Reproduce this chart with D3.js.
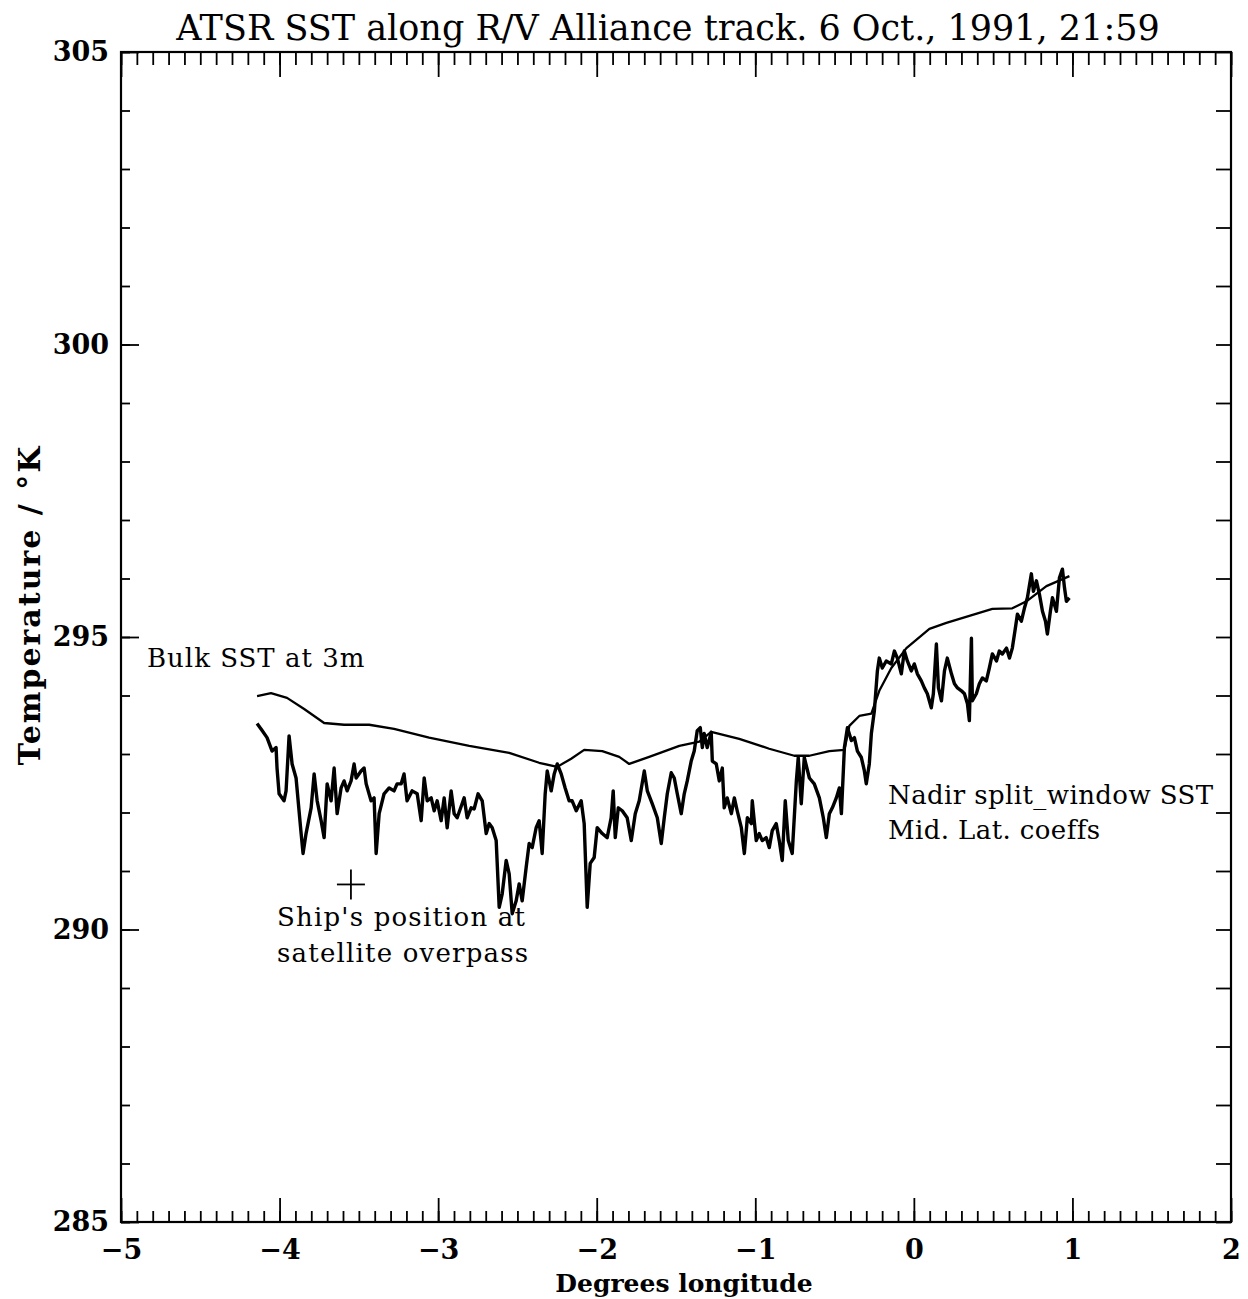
<!DOCTYPE html>
<html>
<head>
<meta charset="utf-8">
<script src="https://cdn.jsdelivr.net/npm/d3@7"></script>
<style>
  body { margin: 0; background: #fff; }
  svg { display: block; }
</style>
</head>
<body>
<svg id="svg" width="1248" height="1299"></svg>
<script>
// bulk SST at 3m (smooth curve)
var bulkLon = [-4.142, -4.054, -3.953, -3.845, -3.719, -3.593, -3.435, -3.278, -3.057, -2.804,
    -2.552, -2.363, -2.249, -2.161, -2.079, -1.965, -1.858, -1.795, -1.669, -1.479,
    -1.353, -1.278, -1.101, -0.912, -0.754, -0.659, -0.533, -0.438, -0.407, -0.344,
    -0.268, -0.218, -0.142, -0.047, 0.098, 0.205, 0.350, 0.495, 0.621, 0.710, 0.836, 0.981];
var bulkT = [293.99, 294.04, 293.96, 293.77, 293.53, 293.50, 293.50, 293.43, 293.28, 293.14,
    293.02, 292.85, 292.78, 292.92, 293.07, 293.05, 292.95, 292.83, 292.95, 293.14,
    293.21, 293.38, 293.26, 293.09, 292.97, 292.97, 293.05, 293.07, 293.48, 293.65,
    293.69, 294.08, 294.47, 294.81, 295.14, 295.24, 295.36, 295.48, 295.49, 295.61, 295.87, 296.04];

// nadir split-window SST (noisy trace)
var nadirLon = [-4.142, -4.110, -4.079, -4.047, -4.022, -4.016, -4.003, -3.972, -3.959, -3.940,
    -3.921, -3.896, -3.864, -3.852, -3.833, -3.801, -3.782, -3.763, -3.738, -3.719,
    -3.700, -3.675, -3.656, -3.637, -3.612, -3.593, -3.574, -3.549, -3.530, -3.517,
    -3.486, -3.467, -3.454, -3.423, -3.404, -3.391, -3.372, -3.341, -3.309, -3.278,
    -3.259, -3.233, -3.215, -3.196, -3.164, -3.132, -3.107, -3.088, -3.069, -3.044,
    -3.025, -3.006, -2.981, -2.962, -2.943, -2.918, -2.899, -2.880, -2.849, -2.836,
    -2.817, -2.792, -2.773, -2.748, -2.722, -2.697, -2.678, -2.659, -2.634, -2.615,
    -2.596, -2.571, -2.552, -2.533, -2.508, -2.489, -2.470, -2.445, -2.426, -2.407,
    -2.382, -2.363, -2.344, -2.325, -2.312, -2.287, -2.268, -2.249, -2.224, -2.199,
    -2.174, -2.155, -2.129, -2.098, -2.079, -2.060, -2.041, -2.016, -1.997, -1.965,
    -1.934, -1.909, -1.896, -1.883, -1.864, -1.839, -1.808, -1.782, -1.757, -1.732,
    -1.700, -1.681, -1.650, -1.618, -1.593, -1.574, -1.555, -1.530, -1.511, -1.492,
    -1.467, -1.448, -1.429, -1.404, -1.385, -1.366, -1.347, -1.334, -1.322, -1.303,
    -1.278, -1.271, -1.246, -1.227, -1.208, -1.196, -1.177, -1.151, -1.132, -1.114,
    -1.088, -1.069, -1.050, -1.025, -1.019, -0.994, -0.975, -0.956, -0.931, -0.912,
    -0.893, -0.868, -0.849, -0.830, -0.811, -0.792, -0.767, -0.741, -0.729, -0.710,
    -0.691, -0.659, -0.628, -0.596, -0.571, -0.552, -0.533, -0.514, -0.489, -0.470,
    -0.457, -0.438, -0.419, -0.394, -0.375, -0.356, -0.331, -0.312, -0.300, -0.281,
    -0.268, -0.249, -0.230, -0.218, -0.199, -0.174, -0.142, -0.123, -0.104, -0.079,
    -0.060, -0.041, -0.016, 0.003, 0.022, 0.047, 0.066, 0.085, 0.110, 0.123,
    0.142, 0.155, 0.174, 0.193, 0.211, 0.237, 0.256, 0.275, 0.300, 0.319,
    0.338, 0.350, 0.363, 0.369, 0.394, 0.413, 0.432, 0.457, 0.476, 0.495,
    0.521, 0.539, 0.558, 0.584, 0.603, 0.621, 0.640, 0.653, 0.678, 0.697,
    0.716, 0.741, 0.754, 0.773, 0.792, 0.811, 0.830, 0.842, 0.861, 0.874,
    0.899, 0.918, 0.937, 0.950, 0.962, 0.981];
var nadirT = [293.52, 293.40, 293.28, 293.05, 293.11, 292.76, 292.32, 292.20, 292.37, 293.31,
    292.83, 292.59, 291.64, 291.30, 291.64, 292.08, 292.66, 292.20, 291.86, 291.57,
    292.49, 292.20, 292.76, 291.98, 292.42, 292.54, 292.37, 292.54, 292.83, 292.59,
    292.71, 292.76, 292.49, 292.20, 292.25, 291.30, 291.98, 292.32, 292.42, 292.37,
    292.49, 292.49, 292.66, 292.20, 292.37, 292.32, 291.86, 292.59, 292.20, 292.25,
    292.03, 292.20, 291.86, 292.25, 291.74, 292.37, 291.98, 291.91, 292.15, 292.25,
    291.91, 292.08, 292.06, 292.32, 292.20, 291.64, 291.81, 291.74, 291.52, 290.38,
    290.61, 291.18, 290.95, 290.27, 290.49, 290.78, 290.49, 291.06, 291.47, 291.40,
    291.74, 291.86, 291.30, 292.32, 292.71, 292.37, 292.66, 292.83, 292.66, 292.42,
    292.20, 292.20, 292.03, 292.20, 291.81, 290.38, 291.13, 291.23, 291.74, 291.64,
    291.57, 291.91, 292.37, 291.57, 292.08, 292.03, 291.91, 291.52, 291.98, 292.20,
    292.71, 292.37, 292.15, 291.91, 291.47, 291.91, 292.32, 292.68, 292.59, 292.32,
    291.98, 292.32, 292.54, 292.88, 293.05, 293.40, 293.45, 293.11, 293.35, 293.11,
    293.37, 292.88, 292.83, 292.54, 292.76, 292.08, 292.25, 291.98, 292.25, 292.03,
    291.74, 291.30, 291.91, 291.81, 292.20, 291.52, 291.64, 291.52, 291.57, 291.40,
    291.69, 291.81, 291.52, 291.18, 292.20, 291.52, 291.30, 292.54, 292.94, 292.15,
    292.94, 292.59, 292.49, 292.25, 291.91, 291.57, 291.98, 292.08, 292.25, 292.42,
    291.98, 293.11, 293.45, 293.23, 293.28, 293.05, 292.94, 292.71, 292.49, 292.83,
    293.35, 293.74, 294.42, 294.64, 294.47, 294.59, 294.54, 294.76, 294.64, 294.37,
    294.76, 294.59, 294.42, 294.54, 294.37, 294.25, 294.13, 294.03, 293.79, 294.03,
    294.88, 294.13, 293.91, 294.42, 294.64, 294.37, 294.20, 294.13, 294.08, 294.03,
    293.86, 293.57, 294.98, 293.91, 294.03, 294.20, 294.30, 294.25, 294.47, 294.71,
    294.59, 294.76, 294.71, 294.81, 294.64, 294.81, 295.15, 295.39, 295.27, 295.49,
    295.67, 296.08, 295.78, 295.96, 295.73, 295.44, 295.27, 295.05, 295.44, 295.67,
    295.44, 296.01, 296.16, 295.84, 295.61, 295.67];

// ship position marker
var shipLon = [-3.55];
var shipT = [290.77];

var xMajor = [-5, -4, -3, -2, -1, 0, 1, 2];
var yMajor = [285, 290, 295, 300, 305];

var title = 'ATSR SST along R/V Alliance track. 6 Oct., 1991, 21:59';

var L = 121, R = 1231, T = 52, B = 1222;
var serif = '"DejaVu Serif", serif';

var x = d3.scaleLinear().domain([-5, 2]).range([L, R]);
var y = d3.scaleLinear().domain([285, 305]).range([B, T]);

var s = d3.select('#svg');

function ticks(axis, tx, ty, vals, len){
    var g = s.append('g')
        .attr('transform', 'translate(' + tx + ',' + ty + ')')
        .call(axis.tickValues(vals).tickSize(len).tickFormat(''));
    g.select('.domain').remove();
    g.selectAll('line').attr('stroke', '#000').attr('stroke-width', 1.8);
    return g;
}

var xMinor = d3.range(-50, 21).map(function(d){ return d / 10; });
var yMinor = d3.range(285, 306);

// top (ticks down) and bottom (ticks up)
ticks(d3.axisBottom(x), 0, T, xMinor, 13);
ticks(d3.axisBottom(x), 0, T, xMajor, 25);
ticks(d3.axisTop(x), 0, B, xMinor, 11);
ticks(d3.axisTop(x), 0, B, xMajor, 24);
// left (ticks right) and right (ticks left)
ticks(d3.axisRight(y), L, 0, yMinor, 9);
ticks(d3.axisRight(y), L, 0, yMajor, 18);
ticks(d3.axisLeft(y), R, 0, yMinor, 15);

// frame
s.append('rect')
    .attr('x', L).attr('y', T)
    .attr('width', R - L).attr('height', B - T)
    .attr('fill', 'none').attr('stroke', '#000').attr('stroke-width', 2.2);

// tick labels
var gx = s.append('g')
    .attr('transform', 'translate(0,' + B + ')')
    .call(d3.axisBottom(x).tickValues(xMajor).tickSize(0).tickPadding(18)
        .tickFormat(function(d){ return d < 0 ? '\u2212' + Math.abs(d) : d; }));
gx.select('.domain').remove();
gx.selectAll('text').attr('font-family', serif).attr('font-weight', 'bold')
    .attr('font-size', 27).attr('fill', '#000');

var gy = s.append('g')
    .attr('transform', 'translate(' + L + ',0)')
    .call(d3.axisLeft(y).tickValues(yMajor).tickSize(0).tickPadding(12));
gy.select('.domain').remove();
gy.selectAll('text').attr('font-family', serif).attr('font-weight', 'bold')
    .attr('font-size', 27).attr('fill', '#000');

// series
var line = d3.line()
    .x(function(d){ return x(d[0]); })
    .y(function(d){ return y(d[1]); });

s.append('path')
    .datum(d3.zip(bulkLon, bulkT))
    .attr('d', line)
    .attr('fill', 'none').attr('stroke', '#000').attr('stroke-width', 2.3)
    .attr('stroke-linejoin', 'round');

s.append('path')
    .datum(d3.zip(nadirLon, nadirT))
    .attr('d', line)
    .attr('fill', 'none').attr('stroke', '#000').attr('stroke-width', 3.4)
    .attr('stroke-linejoin', 'round');

// ship cross
var sx = x(shipLon[0]), sy = y(shipT[0]);
s.append('line').attr('x1', sx - 14).attr('x2', sx + 14).attr('y1', sy).attr('y2', sy)
    .attr('stroke', '#000').attr('stroke-width', 1.8);
s.append('line').attr('x1', sx).attr('x2', sx).attr('y1', sy - 15).attr('y2', sy + 15)
    .attr('stroke', '#000').attr('stroke-width', 1.8);

// texts
function label(tx, ty, str, size, weight, anchor, spacing){
    return s.append('text')
        .attr('x', tx).attr('y', ty)
        .attr('font-family', serif)
        .attr('font-size', size)
        .attr('font-weight', weight || 'normal')
        .attr('text-anchor', anchor || 'start')
        .attr('letter-spacing', spacing || 0)
        .text(str);
}

label(668, 40, title, 35, 'normal', 'middle');
label(147, 667, 'Bulk SST at 3m', 26, 'normal', 'start', 1);
label(277, 926, "Ship's position at", 26, 'normal', 'start', 1.2);
label(277, 962, 'satellite overpass', 26, 'normal', 'start', 1.2);
label(888, 804, 'Nadir split_window SST', 26, 'normal', 'start', 0.4);
label(888, 839, 'Mid. Lat. coeffs', 26, 'normal', 'start', 0.4);
label(684, 1292, 'Degrees longitude', 25, 'bold', 'middle');

s.append('text')
    .attr('transform', 'translate(40,605) rotate(-90)')
    .attr('font-family', serif)
    .attr('font-size', 30)
    .attr('font-weight', 'bold')
    .attr('letter-spacing', 2)
    .attr('text-anchor', 'middle')
    .text('Temperature / \u00b0K');
</script>
</body>
</html>
